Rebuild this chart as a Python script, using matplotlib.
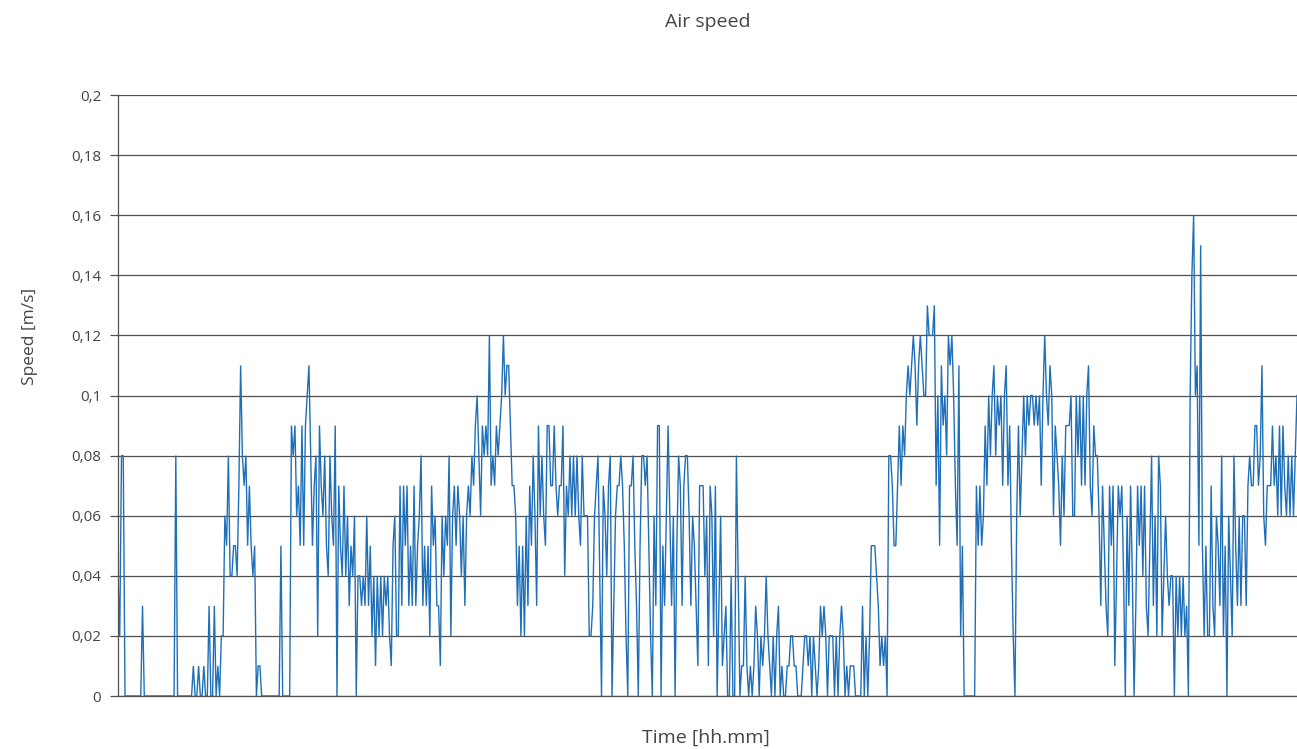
import matplotlib
matplotlib.use("Agg")
import matplotlib.pyplot as plt
import numpy as np
from matplotlib.ticker import FuncFormatter

title = "Air speed"
x_label = "Time [hh.mm]"
y_label = "Speed [m/s]"
y_ticks = [0, 0.02, 0.04, 0.06, 0.08, 0.1, 0.12, 0.14, 0.16, 0.18, 0.2]

seg_a = ([0.04, 0.02, 0.08, 0.08, 0] + [0] * 9 + [0.03] + [0] * 18 + [0.08] + [0] * 9 +
         [0.01, 0, 0, 0.01, 0, 0, 0.01, 0, 0, 0.03, 0, 0, 0.03, 0, 0.01, 0, 0.02, 0.02,
          0.06, 0.05, 0.08, 0.04])
seg_b = ([0.04, 0.05, 0.05, 0.04, 0.07, 0.11, 0.08, 0.07, 0.08, 0.05, 0.07, 0.05, 0.04, 0.05,
          0, 0.01, 0.01] + [0] * 11 + [0.05] + [0] * 5 +
         [0.09, 0.08, 0.09, 0.06, 0.07, 0.05, 0.09, 0.05, 0.09, 0.10, 0.11,
          0.08, 0.05, 0.07, 0.08, 0.02, 0.09, 0.07, 0.06, 0.08, 0.05, 0.04, 0.08, 0.06, 0.05,
          0.09, 0, 0.07, 0.05, 0.04, 0.07, 0.04, 0.06, 0.03, 0.05, 0.04, 0.06, 0, 0.04])
seg_c = [0.04, 0.03, 0.04, 0.03, 0.06, 0.03, 0.05, 0.02, 0.04, 0.01,
         0.04, 0.02, 0.04, 0.02, 0.04, 0.03, 0.04, 0.02, 0.01, 0.05,
         0.06, 0.02, 0.02, 0.07, 0.03, 0.07, 0.05, 0.07, 0.03, 0.05,
         0.03, 0.07, 0.03, 0.05, 0.06, 0.08, 0.03, 0.05, 0.03, 0.05,
         0.02, 0.07, 0.05, 0.06, 0.03, 0.03, 0.01, 0.06, 0.04, 0.06,
         0.05, 0.08, 0.02, 0.06, 0.07, 0.05, 0.07, 0.06, 0.04, 0.06,
         0.03, 0.06, 0.07]
seg_d = [0.06, 0.08, 0.07, 0.09, 0.10, 0.08, 0.06, 0.09, 0.08, 0.09,
         0.08, 0.12, 0.07, 0.08, 0.07, 0.09, 0.08, 0.09, 0.10, 0.12,
         0.10, 0.11, 0.11, 0.09, 0.07, 0.07, 0.06, 0.03, 0.05, 0.02,
         0.05, 0.02, 0.06, 0.03, 0.07, 0.05, 0.08, 0.06, 0.03,
         0.09, 0.06, 0.08, 0.06, 0.05, 0.09, 0.09, 0.07, 0.07, 0.09, 0.07, 0.06, 0.07, 0.07, 0.09,
         0.04, 0.07, 0.06, 0.08, 0.06, 0.08, 0.06, 0.08, 0.06, 0.05, 0.08, 0.06, 0.06, 0.06,
         0.02, 0.02, 0.03, 0.06]
seg_e = [0.07, 0.08, 0.04, 0,
         0.07, 0.06, 0.04, 0.07, 0.08, 0, 0.03, 0.06, 0.07, 0.07,
         0.08, 0.07, 0.05, 0.02, 0, 0.07, 0.07, 0.08, 0.05, 0.03,
         0, 0.05, 0.08, 0.08, 0.07, 0.08, 0.05, 0.02, 0, 0.06,
         0.03, 0.09, 0.09, 0, 0.05, 0.03, 0.06, 0.09, 0.06, 0.03,
         0.06, 0,
         0.05, 0.08, 0.07, 0.03, 0.07, 0.08, 0.08, 0.06, 0.03, 0.06,
         0.05, 0.03, 0.01, 0.07, 0.07, 0.07, 0.04, 0.06, 0.01, 0.07,
         0.06, 0.02]
seg_f = [0.07, 0, 0.03, 0.06, 0.01, 0.02, 0.03, 0, 0, 0.04,
         0, 0, 0.08, 0.04, 0, 0.01, 0.01, 0.04, 0.01, 0,
         0.01, 0, 0.01, 0.03, 0.02, 0, 0.02, 0.01, 0.02, 0.04,
         0.02, 0.01, 0, 0.02, 0, 0.02, 0.03, 0, 0.01, 0,
         0, 0.01, 0.01, 0.02, 0.02, 0.01, 0.01, 0, 0, 0,
         0.01, 0.02, 0.02, 0.01, 0.02, 0, 0.02, 0.01, 0, 0.01,
         0.03, 0.02, 0.03, 0.02, 0, 0.02, 0.02, 0.02]
seg_g = [0, 0.02, 0, 0.02, 0.03, 0.02, 0, 0.01, 0, 0.01,
         0.01, 0.01, 0, 0, 0, 0, 0.03, 0, 0.02, 0,
         0.02, 0.05, 0.05, 0.05, 0.04, 0.03, 0.01, 0.02, 0.01, 0.02,
         0, 0.08, 0.08, 0.07, 0.05, 0.05, 0.07, 0.09, 0.07, 0.09,
         0.08, 0.10, 0.11, 0.10, 0.11, 0.12, 0.11, 0.09, 0.11, 0.12,
         0.11, 0.10, 0.10, 0.13, 0.12, 0.12, 0.12, 0.13, 0.07, 0.10,
         0.05, 0.11, 0.09, 0.10, 0.08, 0.12, 0.11, 0.12, 0.10]
seg_h = [0.07, 0.05, 0.11, 0.02, 0.05, 0, 0, 0, 0, 0,
         0, 0, 0.07, 0.05, 0.07, 0.05, 0.06, 0.09, 0.07, 0.10,
         0.08, 0.10, 0.11, 0.08, 0.10, 0.09, 0.10, 0.07, 0.10, 0.11,
         0.07, 0.09, 0.05, 0.02, 0, 0.06, 0.09, 0.06, 0.08, 0.10,
         0.08, 0.10, 0.09, 0.10, 0.10, 0.09, 0.10, 0.09, 0.10, 0.07,
         0.10, 0.12, 0.10, 0.09, 0.11, 0.10, 0.06, 0.09, 0.08, 0.07,
         0.05, 0.08, 0.06, 0.09, 0.09, 0.09, 0.10, 0.06]
seg_i = [0.06, 0.10, 0.08, 0.10, 0.07, 0.10, 0.07, 0.10, 0.11, 0.07,
         0.06, 0.09, 0.08, 0.08, 0.06, 0.03, 0.07, 0.05, 0.03, 0.02,
         0.07, 0.05, 0.07, 0.01, 0.04, 0.07, 0.06, 0.07, 0.04, 0,
         0.06, 0.03, 0.07, 0.04, 0, 0.03, 0.07, 0.05, 0.07, 0.04,
         0.07, 0.03, 0.02, 0.05, 0.08, 0.03, 0.06, 0.02, 0.08, 0.07,
         0.02, 0.04, 0.06, 0.04, 0.03, 0.04, 0.04, 0, 0.04, 0.02,
         0.04, 0.02, 0.04, 0.02, 0.03, 0]
seg_j = [0.10, 0.14, 0.16, 0.10,
         0.11, 0.05, 0.15, 0.05, 0.02, 0.05, 0.02, 0.02, 0.07, 0.03,
         0.02, 0.06, 0.05, 0.03, 0.08, 0.02, 0.05, 0, 0.06, 0.04,
         0.02, 0.08, 0.05, 0.03, 0.06, 0.03, 0.06, 0.06, 0.03, 0.07,
         0.08, 0.07, 0.07, 0.09, 0.09, 0.07, 0.08, 0.11, 0.06, 0.05,
         0.07, 0.07, 0.07, 0.09, 0.07, 0.08, 0.06, 0.09, 0.06, 0.09,
         0.07, 0.06, 0.08, 0.06, 0.08, 0.06, 0.08, 0.10]

speed = np.array(seg_a + seg_b + seg_c + seg_d + seg_e + seg_f + seg_g + seg_h + seg_i + seg_j)
t = np.arange(len(speed))

plt.rcParams['font.family'] = ['Open Sans', 'DejaVu Sans']
text_color = '#454545'
grid_color = '#505050'

fig = plt.figure(figsize=(12.97, 7.49), dpi=100)
ax = fig.add_axes([118/1297, 1 - 696/749, 1 - 118/1297, (696 - 95)/749])

ax.plot(t, speed, color='#1f6fb8', linewidth=1.0, solid_joinstyle='miter')

ax.set_xlim(0, len(speed) - 1)
ax.set_ylim(0, 0.2)
ax.set_yticks(y_ticks)
ax.yaxis.set_major_formatter(FuncFormatter(lambda v, p: ('%g' % round(v, 2)).replace('.', ',')))
ax.set_xticks([])
ax.grid(axis='y', color=grid_color, linewidth=0.9)
ax.set_axisbelow(True)
for s in ['top', 'right']:
    ax.spines[s].set_visible(False)
ax.spines['left'].set_color(grid_color)
ax.spines['left'].set_linewidth(0.9)
ax.spines['bottom'].set_color(grid_color)
ax.spines['bottom'].set_linewidth(0.9)
ax.tick_params(axis='y', length=6, width=0.9, color=grid_color, labelsize=11,
               labelcolor=text_color, pad=6)

fig.text(708/1297, 1 - 22/749, title, ha='center', va='center', fontsize=14, color=text_color)
fig.text(706/1297, 1 - 738/749, x_label, ha='center', va='center', fontsize=14, color=text_color)
fig.text(30/1297, 1 - 336/749, y_label, ha='center', va='center', rotation=90, fontsize=12.5, color=text_color)

fig.savefig('out.png', dpi=100)
